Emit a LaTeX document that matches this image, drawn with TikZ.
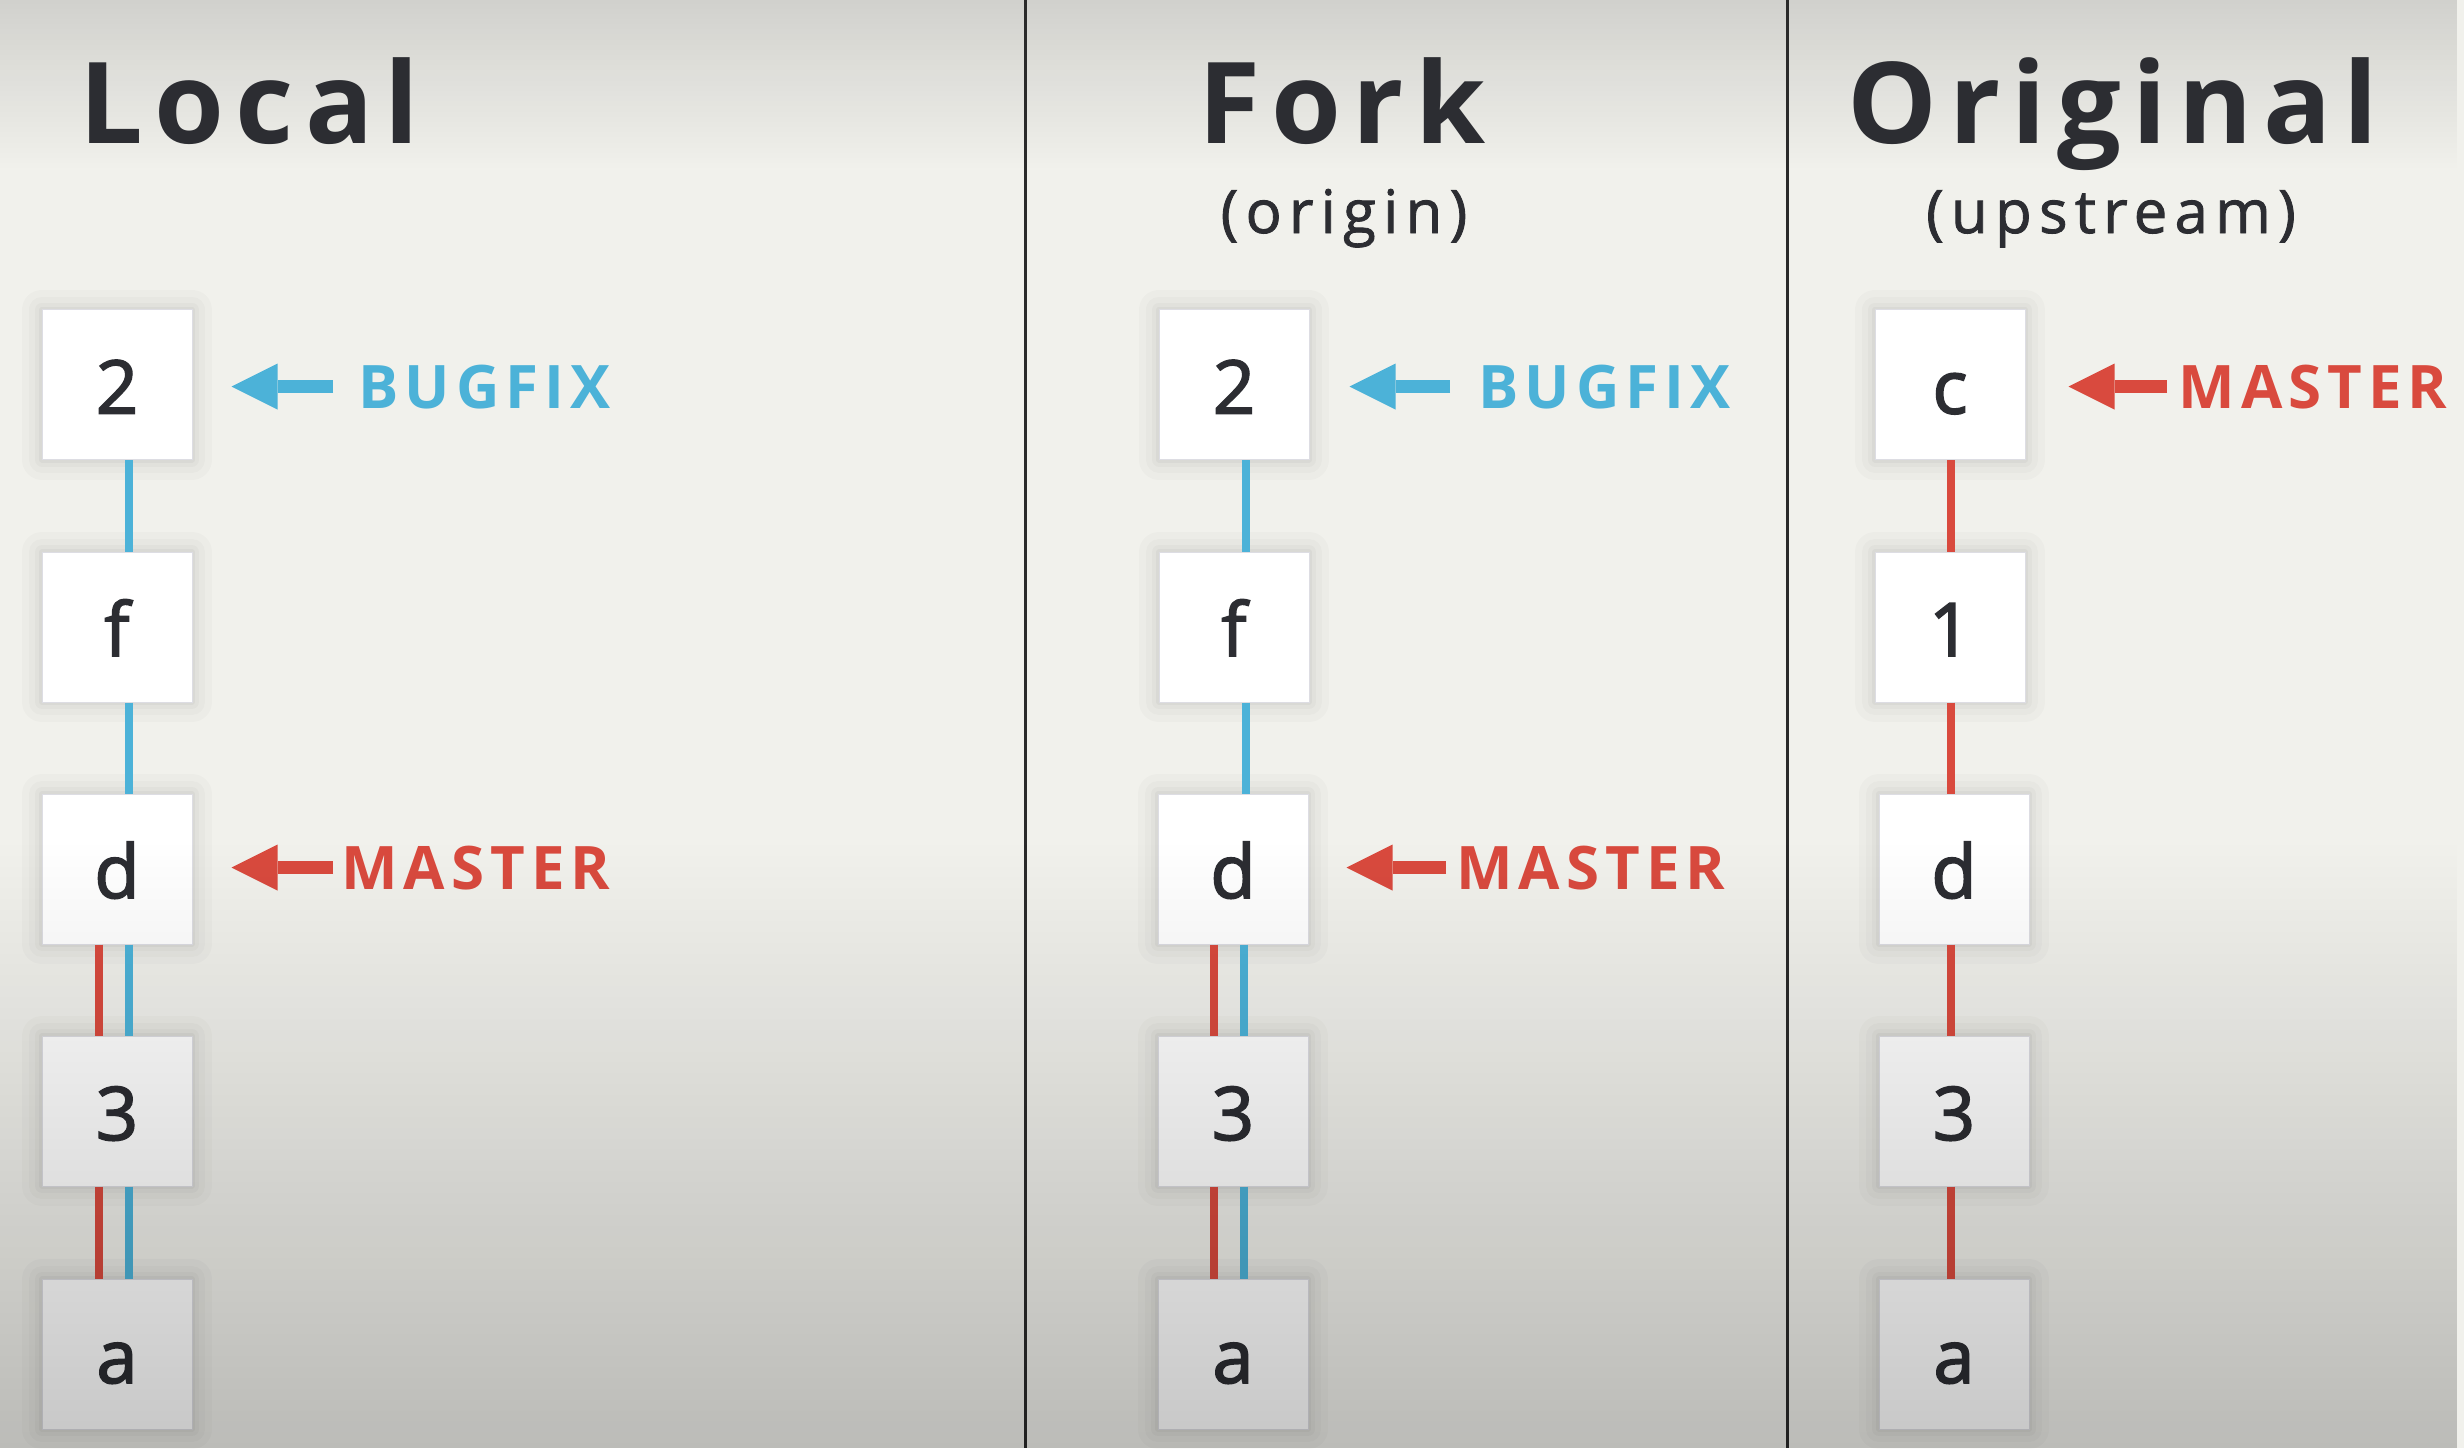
\documentclass[tikz,border=0pt]{standalone}
\usepackage{fontspec}
\setmainfont{Open Sans}
\newfontfamily\titlefont[LetterSpace=10]{Open Sans}
\newfontfamily\subfont[LetterSpace=12,FakeBold=1.4]{Open Sans}
\newfontfamily\labfont[LetterSpace=10]{Open Sans}
\newfontfamily\boxfont[FakeBold=2.2]{Open Sans}
\usetikzlibrary{arrows.meta,fadings}

\definecolor{ink}{HTML}{2C2D32}
\definecolor{gblue}{HTML}{4CB2D8}
\definecolor{gred}{HTML}{D94A3E}
\definecolor{bgbase}{HTML}{F1F1EC}
\definecolor{divider}{HTML}{2A2A2A}
\definecolor{boxedge}{HTML}{DDDDE3}

\tikzfading[name=bottomdark, top color=transparent!100, bottom color=transparent!78]
\tikzfading[name=topdark, top color=transparent!87, bottom color=transparent!100]

\tikzset{
  commit/.style={draw=boxedge, line width=0.5pt, fill=white,
    minimum width=75pt, minimum height=75pt, inner sep=0pt,
    text height=29pt, text depth=0pt, text=ink,
    font=\boxfont\fontsize{37}{40}\selectfont,
    preaction={draw=black, draw opacity=0.018, line width=20pt, line join=round},
    preaction={draw=black, draw opacity=0.02, line width=13pt, line join=round},
    preaction={draw=black, draw opacity=0.025, line width=7pt, line join=round},
    preaction={draw=black, draw opacity=0.03, line width=3pt, line join=round}},
  ttl/.style={font=\titlefont\bfseries\fontsize{56.5}{60}\selectfont, text=ink, inner sep=0pt},
  sub/.style={font=\subfont\fontsize{30}{34}\selectfont, text=ink, inner sep=0pt, anchor=base},
  lab/.style={font=\labfont\bfseries\fontsize{30}{34}\selectfont, inner sep=0pt, anchor=base west},
  bline/.style={draw=gblue, line width=3.6pt},
  rline/.style={draw=gred, line width=3.6pt},
  arr/.style={line width=6.5pt, -{Triangle[length=23pt,width=23pt,line width=0pt]}},
  divline/.style={draw=divider, line width=1.5pt},
}

\begin{document}
\begin{tikzpicture}[x=0.5pt, y=-0.5pt]
\useasboundingbox (0,0) rectangle (2464,1448);
% background
\fill[bgbase] (0,0) rectangle (2464,1448);
\fill[black, path fading=topdark] (0,0) rectangle (2464,170);
% dividers
\draw[divline] (1025,0) -- (1025,1448);
\draw[divline] (1787,0) -- (1787,1448);

% titles
\node[ttl, anchor=base west] (tLocal) at (79,143) {Local};
\node[ttl, anchor=base] (tFork) at (1342,143) {Fork};
\node[ttl, anchor=base] (tOrig) at (2113,143) {Original};
\node[sub] (sFork) at (1344,233) {(origin)};
\node[sub] (sOrig) at (2111,233) {(upstream)};

% Local column
\node[commit] (L2) at (117,384.5) {2};
\node[commit] (Lf) at (117,627) {f};
\node[commit] (Ld) at (117,869) {d};
\node[commit] (L3) at (117,1111) {3};
\node[commit] (La) at (117,1354) {a};

% Fork column
\node[commit] (F2) at (1234,384.5) {2};
\node[commit] (Ff) at (1234,627) {f};
\node[commit] (Fd) at (1233,869) {d};
\node[commit] (F3) at (1233,1111) {3};
\node[commit] (Fa) at (1233,1354) {a};

% Original column
\node[commit] (Oc) at (1950,384.5) {c};
\node[commit] (O1) at (1950,627) {1};
\node[commit] (Od) at (1954,869) {d};
\node[commit] (O3) at (1954,1111) {3};
\node[commit] (Oa) at (1954,1354) {a};

% Local connectors
\draw[bline] ([xshift=6pt]L2.south) -- ([xshift=6pt]Lf.north);
\draw[bline] ([xshift=6pt]Lf.south) -- ([xshift=6pt]Ld.north);
\draw[bline] ([xshift=6pt]Ld.south) -- ([xshift=6pt]L3.north);
\draw[bline] ([xshift=6pt]L3.south) -- ([xshift=6pt]La.north);
\draw[rline] ([xshift=-9pt]Ld.south) -- ([xshift=-9pt]L3.north);
\draw[rline] ([xshift=-9pt]L3.south) -- ([xshift=-9pt]La.north);

% Fork connectors
\draw[bline] ([xshift=6pt]F2.south) -- ([xshift=6pt]Ff.north);
\draw[bline] ([xshift=6pt]Ff.south) -- ([xshift=6.5pt]Fd.north);
\draw[bline] ([xshift=5.5pt]Fd.south) -- ([xshift=5.5pt]F3.north);
\draw[bline] ([xshift=5.5pt]F3.south) -- ([xshift=5.5pt]Fa.north);
\draw[rline] ([xshift=-9.5pt]Fd.south) -- ([xshift=-9.5pt]F3.north);
\draw[rline] ([xshift=-9.5pt]F3.south) -- ([xshift=-9.5pt]Fa.north);

% Original connectors
\draw[rline] ([xshift=0.5pt]Oc.south) -- ([xshift=0.5pt]O1.north);
\draw[rline] ([xshift=0.5pt]O1.south) -- ([xshift=-1.5pt]Od.north);
\draw[rline] ([xshift=-1.5pt]Od.south) -- ([xshift=-1.5pt]O3.north);
\draw[rline] ([xshift=-1.5pt]O3.south) -- ([xshift=-1.5pt]Oa.north);

% branch labels
\node[lab, text=gblue] (LB) at (358,408) {BUGFIX};
\node[lab, text=gred] (LM) at (341,889) {MASTER};
\node[lab, text=gblue] (FB) at (1478,408) {BUGFIX};
\node[lab, text=gred] (FM) at (1456,889) {MASTER};
\node[lab, text=gred] (OM) at (2178,408) {MASTER};

% pointer arrows
\draw[arr, gblue, shorten <=12.5pt, shorten >=19.5pt] (LB.west) -- (LB.west -| L2.east);
\draw[arr, gred, shorten <=4pt, shorten >=19.5pt] (LM.west) -- (LM.west -| Ld.east);
\draw[arr, gblue, shorten <=14pt, shorten >=20pt] (FB.west) -- (FB.west -| F2.east);
\draw[arr, gred, shorten <=5pt, shorten >=19pt] (FM.west) -- (FM.west -| Fd.east);
\draw[arr, gred, shorten <=5.5pt, shorten >=21.5pt] (OM.west) -- (OM.west -| Oc.east);

% bottom vignette
\fill[black, path fading=bottomdark] (0,840) rectangle (2464,1448);
\end{tikzpicture}
\end{document}
